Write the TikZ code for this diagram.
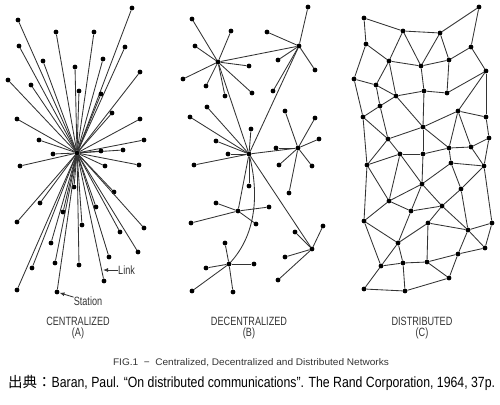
\documentclass[tikz,border=0pt]{standalone}
\usepackage{fontspec}
\setmainfont{Liberation Sans}
\newfontfamily\lblfont[FakeStretch=0.76]{Liberation Sans}
\newfontfamily\capfont[FakeStretch=1.05]{Liberation Sans}
\newfontfamily\srcfont[FakeStretch=0.83]{Liberation Sans}
\newfontfamily\cjk{Noto Sans CJK JP}
\usepackage{tikz}
\usetikzlibrary{arrows.meta}

\tikzset{
  stn/.style={circle, fill=black, inner sep=0pt, minimum size=4.8pt},
  link/.style={black!80, line width=0.85pt},
  lbl/.style={inner sep=0pt, text=black!80,
              font=\lblfont\fontsize{12}{13}\selectfont},
  ptr/.style={black!80, line width=0.85pt, -{Latex[length=5pt,width=4pt]}},
}

\begin{document}
\begin{tikzpicture}[x=1pt, y=-1pt]

  \useasboundingbox (0,0) rectangle (500,404);

  %% ── (A) Centralized ────────────────────────────────────────
  \node[stn] (hc) at (77,153) {};
  \foreach \x/\y [count=\i] in {132/8, 18/20, 56/32, 94/32, 19/46,
      125/47, 43/61, 103/59, 75/67, 140/72, 8/80, 31/85, 79/91,
      101/94, 112/113, 17/119, 140/119, 39/140, 144/140, 53/154,
      123/150, 101/151, 20/166, 105/166, 139/165, 114/192, 74/187,
      40/203, 63/212, 96/207, 17/222, 82/225, 144/228, 120/232,
      51/243, 138/252, 109/257, 55/263, 79/265, 32/268, 104/281,
      17/290, 57/292} {
    \node[stn] (c\i) at (\x,\y) {};
    \draw[link] (hc) -- (c\i);
  }

  % callouts
  \coordinate (linkpt) at (103,270);
  \node[lbl, anchor=west] (linklbl) at (118,270) {Link};
  \draw[ptr] (linklbl.west) -- (linkpt);
  \node[lbl] (stalbl) at (88,301) {Station};
  \draw[ptr] (stalbl.165) -- (c43);

  %% ── (B) Decentralized ──────────────────────────────────────
  \node[stn] (h1) at (218,62) {};
  \node[stn] (h2) at (299,46) {};
  \node[stn] (h3) at (249,154) {};
  \node[stn] (h4) at (298,148) {};
  \node[stn] (h5) at (238,211) {};
  \node[stn] (h6) at (229,264) {};
  \node[stn] (h7) at (312,249) {};

  % trunk links between the hubs
  \draw[link] (h1) -- (h2);
  \draw[link] (h1) -- (h3);
  \draw[link] (h2) -- (h3);
  \draw[link] (h3) -- (h4);
  \draw[link] (h3) -- (h5);
  \draw[link] (h3) -- (h7);
  \draw[link] (h3) .. controls (258,190) and (258,232) .. (h6);

  % stations of each hub
  \foreach \x/\y [count=\i] in {192/19, 231/31, 195/46, 249/66,
      183/79, 206/86, 225/96, 252/93} {
    \node[stn] (h1s\i) at (\x,\y) {};
    \draw[link] (h1) -- (h1s\i);
  }
  \foreach \x/\y [count=\i] in {308/7, 267/32, 278/60, 315/70, 273/91} {
    \node[stn] (h2s\i) at (\x,\y) {};
    \draw[link] (h2) -- (h2s\i);
  }
  \foreach \x/\y [count=\i] in {207/107, 190/117, 251/129, 216/141,
      228/154, 194/165, 249/186} {
    \node[stn] (h3s\i) at (\x,\y) {};
    \draw[link] (h3) -- (h3s\i);
  }
  \foreach \x/\y [count=\i] in {285/111, 315/118, 319/139, 276/148,
      279/165, 312/166, 289/193} {
    \node[stn] (h4s\i) at (\x,\y) {};
    \draw[link] (h4) -- (h4s\i);
  }
  \foreach \x/\y [count=\i] in {216/203, 269/207, 191/223, 256/224} {
    \node[stn] (h5s\i) at (\x,\y) {};
    \draw[link] (h5) -- (h5s\i);
  }
  \foreach \x/\y [count=\i] in {225/243, 206/268, 254/264, 192/291,
      233/292} {
    \node[stn] (h6s\i) at (\x,\y) {};
    \draw[link] (h6) -- (h6s\i);
  }
  \foreach \x/\y [count=\i] in {323/226, 295/232, 285/257, 278/280} {
    \node[stn] (h7s\i) at (\x,\y) {};
    \draw[link] (h7) -- (h7s\i);
  }

  %% ── (C) Distributed ────────────────────────────────────────
  \foreach \x/\y [count=\i] in {364/18, 403/31, 440/33, 479/7, 366/44,
      471/47, 389/61, 421/66, 449/60, 486/71, 354/79, 376/85, 396/96,
      424/91, 447/93, 380/106, 458/111, 363/117, 486/117, 423/127,
      388/139, 489/138, 449/148, 471/147, 400/154, 423/154, 367/165,
      451/163, 484/166, 422/184, 461/189, 389/201, 411/211, 442/206,
      364/221, 428/223, 492/223, 468/230, 398/243, 485/248, 458/254,
      381/266, 403/263, 427/262, 449/278, 364/289, 405/291}
    \node[stn] (d\i) at (\x,\y) {};

  \foreach \a/\b in {1/2, 1/5, 2/3, 3/4, 4/6, 2/7, 2/8, 3/8, 3/9, 5/7,
      5/11, 7/8, 8/9, 6/9, 6/10, 7/12, 7/13, 11/12, 11/18, 12/16,
      12/13, 13/14, 14/15, 8/14, 9/15, 10/15, 10/17, 10/19, 16/13,
      18/16, 13/20, 14/20, 16/21, 18/21, 20/17, 20/21, 17/19, 17/23,
      17/24, 19/22, 22/24, 23/24, 20/23, 20/26, 21/25, 18/27, 21/27,
      25/26, 26/23, 23/28, 24/29, 22/29, 28/29, 27/25, 26/30, 25/30,
      25/32, 27/32, 27/35, 28/30, 28/31, 29/31, 29/37, 30/32, 30/33,
      30/34, 32/33, 32/35, 31/38, 31/34, 33/39, 33/34, 34/36, 34/38,
      35/39, 35/42, 39/36, 39/42, 39/43, 36/44, 36/38, 38/37, 38/40,
      37/40, 38/41, 41/40, 42/43, 43/44, 44/41, 44/45, 41/45, 42/46,
      43/47, 46/47, 47/45}
    \draw[link] (d\a) -- (d\b);

  %% ── Captions ───────────────────────────────────────────────
  \node[lbl] (capA) at (78,321) {CENTRALIZED};
  \node[lbl] (tagA) at (78,333) {(A)};
  \node[lbl] (capB) at (249,321) {DECENTRALIZED};
  \node[lbl] (tagB) at (249,333) {(B)};
  \node[lbl] (capC) at (422,321) {DISTRIBUTED};
  \node[lbl] (tagC) at (422,333) {(C)};

  \node[inner sep=0pt, text=black!80,
        font=\capfont\fontsize{9.6}{10}\selectfont] (fig) at (251,363)
    {FIG.1~~−~~Centralized, Decentralized and Distributed Networks};

  \node[inner sep=0pt, anchor=west] (src) at (8,383)
    {{\cjk\fontsize{14.5}{16}\selectfont 出典：}%
     {\srcfont\fontsize{14.8}{16}\selectfont Baran, Paul.
      “On distributed communications”. The Rand Corporation,
      1964, 37p.}};

\end{tikzpicture}
\end{document}
